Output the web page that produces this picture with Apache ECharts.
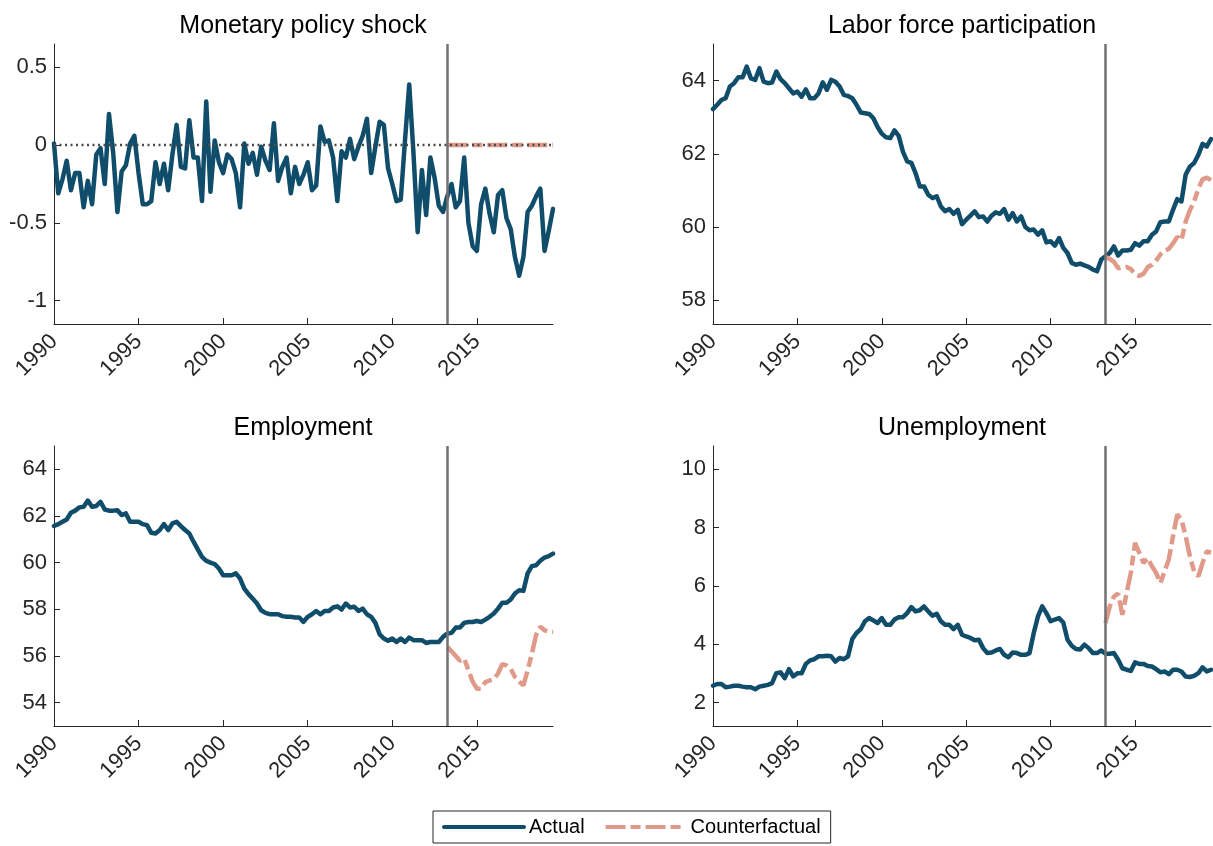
<!DOCTYPE html>
<html>
<head>
<meta charset="utf-8">
<script src="https://cdn.jsdelivr.net/npm/echarts@6/dist/echarts.min.js"></script>
<style>
  html, body { margin: 0; padding: 0; background: #ffffff; }
  #chart { width: 1213px; height: 846px; }
</style>
</head>
<body>
<div id="chart"></div>
<script>
// Quarterly series, 1990Q1 onward; counterfactual paths begin at the policy date.
const startYear = 1990;
const policyDate = 2013.25;
const counterStartIndex = 93; // quarters after 1990Q1
const yearTicks = [1990, 1995, 2000, 2005, 2010, 2015];

const panelTitles = ['Monetary policy shock', 'Labor force participation', 'Employment', 'Unemployment'];
const legendNames = ['Actual', 'Counterfactual'];

const shockActual = [
  0.01, -0.31, -0.22, -0.10, -0.29, -0.18, -0.18, -0.40, -0.23, -0.38,
  -0.06, -0.02, -0.25, 0.20, -0.05, -0.43, -0.17, -0.13, 0.01, 0.06,
  -0.18, -0.38, -0.38, -0.36, -0.11, -0.25, -0.12, -0.29, -0.06, 0.13,
  -0.14, -0.15, 0.16, -0.08, -0.08, -0.36, 0.28, -0.30, 0.03, -0.11,
  -0.18, -0.06, -0.09, -0.18, -0.40, 0.01, -0.12, -0.05, -0.19, -0.01,
  -0.10, -0.16, 0.14, -0.23, -0.14, -0.08, -0.31, -0.14, -0.25, -0.19,
  -0.11, -0.29, -0.26, 0.12, 0.02, 0.03, -0.08, -0.36, -0.04, -0.08,
  0.04, -0.09, -0.01, 0.06, 0.17, -0.18, -0.01, 0.15, 0.13, -0.15,
  -0.25, -0.36, -0.35, 0.03, 0.39, -0.05, -0.56, -0.16, -0.45, -0.08,
  -0.21, -0.39, -0.43, -0.33, -0.25, -0.40, -0.36, -0.08, -0.50, -0.65,
  -0.68, -0.38, -0.28, -0.44, -0.56, -0.32, -0.29, -0.47, -0.54, -0.72,
  -0.84, -0.72, -0.43, -0.39, -0.33, -0.28, -0.68, -0.55, -0.41
];
const shockCounter = [
  0, 0, 0, 0, 0, 0, 0, 0, 0, 0, 0, 0, 0,
  0, 0, 0, 0, 0, 0, 0, 0, 0, 0, 0, 0, 0
];

const lfpActual = [
  63.22, 63.34, 63.47, 63.52, 63.84, 63.93, 64.09, 64.09, 64.38, 64.06,
  64.02, 64.34, 63.97, 63.93, 63.95, 64.25, 64.04, 63.93, 63.79, 63.65,
  63.70, 63.56, 63.76, 63.52, 63.52, 63.65, 63.95, 63.75, 64.02, 63.97,
  63.84, 63.61, 63.58, 63.52, 63.34, 63.13, 63.11, 63.09, 62.97, 62.73,
  62.55, 62.45, 62.43, 62.64, 62.49, 62.06, 61.79, 61.75, 61.47, 61.11,
  61.11, 60.88, 60.79, 60.84, 60.56, 60.43, 60.49, 60.36, 60.47, 60.08,
  60.20, 60.31, 60.43, 60.27, 60.29, 60.15, 60.31, 60.40, 60.36, 60.49,
  60.20, 60.38, 60.15, 60.29, 60.00, 59.91, 59.93, 59.79, 59.91, 59.58,
  59.61, 59.49, 59.70, 59.43, 59.29, 59.02, 58.97, 59.00, 58.95, 58.91,
  58.84, 58.79, 59.11, 59.20, 59.29, 59.47, 59.22, 59.36, 59.36, 59.38,
  59.56, 59.49, 59.61, 59.61, 59.79, 59.88, 60.13, 60.15, 60.15, 60.47,
  60.76, 60.70, 61.43, 61.65, 61.75, 61.97, 62.27, 62.20, 62.40
];
const lfpCounter = [
  59.18, 59.13, 59.05, 58.87, 58.90, 58.91, 58.85, 58.72, 58.66, 58.72,
  58.90, 58.97, 59.09, 59.25, 59.36, 59.40, 59.55, 59.73, 59.64, 60.15,
  60.46, 60.70, 61.05, 61.30, 61.35, 61.28
];

const empActual = [
  61.57, 61.65, 61.75, 61.85, 62.14, 62.23, 62.37, 62.40, 62.66, 62.40,
  62.43, 62.61, 62.28, 62.23, 62.23, 62.25, 62.04, 62.11, 61.75, 61.75,
  61.75, 61.65, 61.61, 61.28, 61.25, 61.40, 61.65, 61.40, 61.68, 61.75,
  61.57, 61.40, 61.25, 60.90, 60.57, 60.25, 60.08, 60.00, 59.94, 59.75,
  59.46, 59.46, 59.46, 59.54, 59.32, 58.89, 58.65, 58.46, 58.25, 57.96,
  57.85, 57.79, 57.79, 57.79, 57.71, 57.68, 57.68, 57.65, 57.65, 57.46,
  57.68, 57.79, 57.93, 57.79, 57.93, 57.93, 58.08, 58.13, 57.99, 58.25,
  58.08, 58.11, 57.93, 58.03, 57.79, 57.68, 57.42, 56.93, 56.75, 56.65,
  56.75, 56.60, 56.75, 56.60, 56.79, 56.68, 56.68, 56.68, 56.56, 56.60,
  56.60, 56.60, 56.82, 56.96, 56.99, 57.22, 57.22, 57.42, 57.46, 57.46,
  57.50, 57.46, 57.56, 57.68, 57.82, 58.03, 58.28, 58.28, 58.42, 58.68,
  58.82, 58.79, 59.54, 59.85, 59.89, 60.08, 60.22, 60.28, 60.39
];
const empCounter = [
  56.39, 56.20, 56.00, 55.80, 55.89, 55.40, 54.90, 54.60, 54.60, 54.88,
  54.95, 55.00, 55.25, 55.65, 55.60, 55.45, 55.10, 54.90, 54.74, 55.39,
  56.10, 56.90, 57.25, 57.10, 57.05, 57.03
];

const unempActual = [
  2.58, 2.64, 2.64, 2.53, 2.55, 2.58, 2.58, 2.55, 2.53, 2.53,
  2.46, 2.55, 2.58, 2.61, 2.67, 3.01, 3.04, 2.84, 3.15, 2.90,
  3.01, 3.01, 3.33, 3.45, 3.49, 3.59, 3.59, 3.61, 3.59, 3.41,
  3.53, 3.49, 3.59, 4.18, 4.39, 4.52, 4.79, 4.90, 4.82, 4.73,
  4.90, 4.67, 4.67, 4.85, 4.93, 4.93, 5.07, 5.28, 5.13, 5.17,
  5.30, 5.13, 4.98, 5.05, 4.79, 4.67, 4.67, 4.52, 4.67, 4.33,
  4.27, 4.22, 4.14, 4.16, 3.87, 3.70, 3.72, 3.79, 3.84, 3.64,
  3.56, 3.72, 3.70, 3.64, 3.64, 3.70, 4.39, 4.96, 5.30, 5.07,
  4.79, 4.85, 4.90, 4.75, 4.16, 3.95, 3.84, 3.82, 3.99, 3.87,
  3.70, 3.70, 3.79, 3.68, 3.68, 3.70, 3.47, 3.18, 3.13, 3.09,
  3.38, 3.33, 3.33, 3.26, 3.24, 3.15, 3.04, 3.07, 2.98, 3.13,
  3.13, 3.07, 2.90, 2.88, 2.92, 3.01, 3.21, 3.07, 3.13
];
const unempCounter = [
  4.73, 5.30, 5.64, 5.74, 5.01, 5.76, 6.45, 7.48, 7.14, 6.79,
  6.96, 6.68, 6.45, 6.10, 6.50, 6.91, 7.71, 8.45, 8.28, 7.71,
  7.02, 6.50, 6.33, 6.79, 7.19, 7.14
];

// Axis ranges and tick marks for each panel
const yRanges = [[-1.15, 0.65], [57.35, 65], [53, 65], [1.2, 10.8]];
const yTickValues = [[-1, -0.5, 0, 0.5], [58, 60, 62, 64], [54, 56, 58, 60, 62, 64], [2, 4, 6, 8, 10]];

const actualSeries = [shockActual, lfpActual, empActual, unempActual];
const counterSeries = [shockCounter, lfpCounter, empCounter, unempCounter];

const FONT = "'Liberation Sans', Arial, Helvetica, sans-serif";
const AXIS_COLOR = '#262626';
const ACTUAL_COLOR = '#0f4d6b';
const COUNTER_COLOR = '#e09a89';
const POLICY_LINE_COLOR = '#727272';
const COUNTER_DASH = [20, 5, 10, 5];

const grids = [
  { left: 54, top: 44, width: 499, height: 280 },
  { left: 713, top: 44, width: 498, height: 280 },
  { left: 54, top: 446, width: 499, height: 280 },
  { left: 713, top: 446, width: 498, height: 280 }
];
const titlePos = [
  { left: 298, top: 9 }, { left: 957, top: 9 },
  { left: 298, top: 411 }, { left: 957, top: 411 }
];

const toPoints = (values, offset) => values.map((v, i) => [startYear + (offset + i) / 4, v]);
const xEnd = startYear + (shockActual.length - 1) / 4;

const xAxes = grids.map((g, i) => ({
  type: 'value', gridIndex: i, min: startYear, max: xEnd,
  axisLine: { show: true, onZero: false, lineStyle: { color: AXIS_COLOR, width: 1 } },
  axisTick: { show: true, inside: true, length: 6, customValues: yearTicks, lineStyle: { color: AXIS_COLOR } },
  axisLabel: {
    show: true, rotate: 45, margin: 14, customValues: yearTicks,
    fontSize: 22, fontFamily: FONT, color: AXIS_COLOR,
    formatter: v => String(v)
  },
  splitLine: { show: false }
}));

const yAxes = grids.map((g, i) => ({
  type: 'value', gridIndex: i, min: yRanges[i][0], max: yRanges[i][1],
  axisLine: { show: true, lineStyle: { color: AXIS_COLOR, width: 1 } },
  axisTick: { show: true, inside: true, length: 6, customValues: yTickValues[i], lineStyle: { color: AXIS_COLOR } },
  axisLabel: {
    show: true, margin: 7, customValues: yTickValues[i],
    fontSize: 22, fontFamily: FONT, color: AXIS_COLOR,
    formatter: v => String(v)
  },
  splitLine: { show: false }
}));

const series = [];
for (let i = 0; i < 4; i++) {
  series.push({
    name: legendNames[0], type: 'line', xAxisIndex: i, yAxisIndex: i,
    data: toPoints(actualSeries[i], 0),
    symbol: 'none', showSymbol: false, z: 3,
    lineStyle: { color: ACTUAL_COLOR, width: 4.5, join: 'round', cap: 'round' },
    itemStyle: { color: ACTUAL_COLOR },
    markLine: {
      silent: true, symbol: ['none', 'none'], animation: false,
      label: { show: false },
      lineStyle: { color: POLICY_LINE_COLOR, width: 2.5, type: 'solid' },
      data: [{ xAxis: policyDate }]
    }
  });
  series.push({
    name: legendNames[1], type: 'line', xAxisIndex: i, yAxisIndex: i,
    data: toPoints(counterSeries[i], counterStartIndex),
    symbol: 'none', showSymbol: false, z: 4,
    lineStyle: { color: COUNTER_COLOR, width: 4.5, type: COUNTER_DASH, cap: 'butt' },
    itemStyle: { color: COUNTER_COLOR }
  });
}
// Zero reference for the shock panel
series.push({
  name: 'zero', type: 'line', xAxisIndex: 0, yAxisIndex: 0,
  data: [[startYear, 0], [xEnd, 0]],
  symbol: 'none', showSymbol: false, z: 5, silent: true,
  lineStyle: { color: '#4a4a4a', width: 2.5, type: [2, 3.5] }
});

const chart = echarts.init(document.getElementById('chart'), null, { renderer: 'canvas' });
chart.setOption({
  animation: false,
  backgroundColor: '#ffffff',
  title: panelTitles.map((t, i) => ({
    text: t, left: titlePos[i].left, top: titlePos[i].top, textAlign: 'center',
    textStyle: { fontSize: 25, fontWeight: 'normal', color: '#000000', fontFamily: FONT }
  })),
  grid: grids,
  xAxis: xAxes,
  yAxis: yAxes,
  legend: {
    data: legendNames,
    left: 433, top: 811, orient: 'horizontal',
    itemWidth: 80, itemHeight: 12, itemGap: 19,
    padding: [6, 10, 6, 9],
    borderColor: AXIS_COLOR, borderWidth: 1,
    backgroundColor: '#ffffff',
    selectedMode: false,
    itemStyle: { opacity: 0 },
    lineStyle: { width: 4 },
    textStyle: { fontSize: 20, color: '#000000', fontFamily: FONT }
  },
  series: series
});
</script>
</body>
</html>
